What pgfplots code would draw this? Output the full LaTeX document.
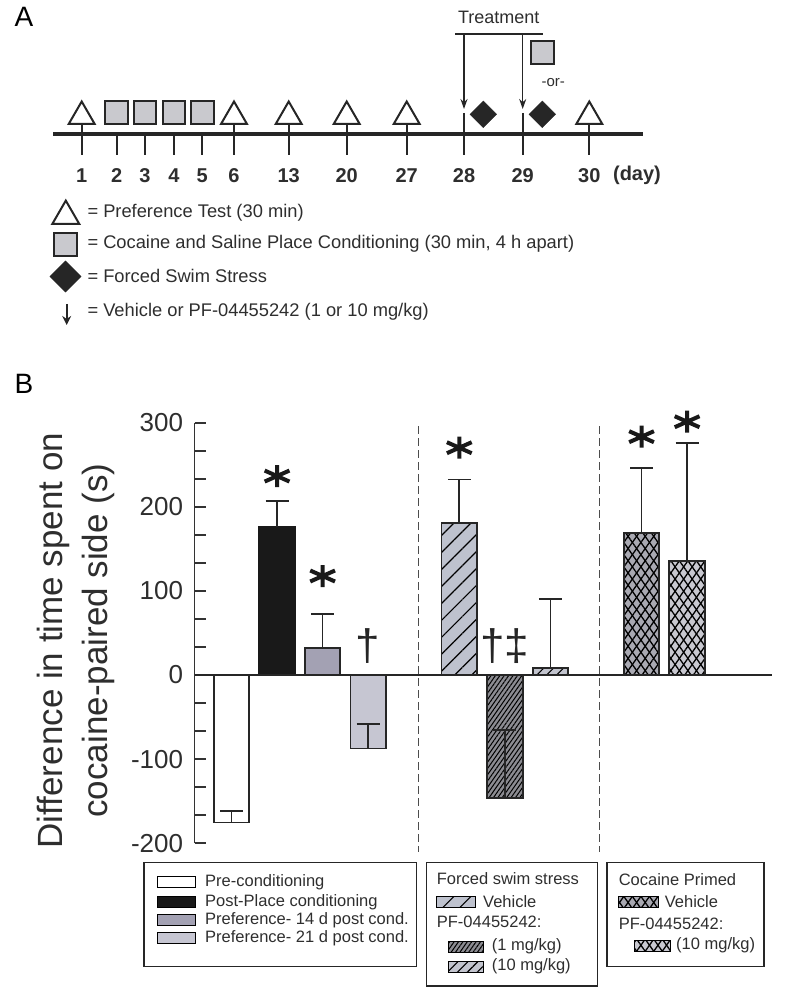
\documentclass[border=0pt]{standalone}
\usepackage{pgfplots}
\pgfplotsset{compat=1.18}
\usepackage{fontspec}
\setmainfont{Liberation Sans}
\usetikzlibrary{patterns,patterns.meta,arrows.meta}
\definecolor{txt}{HTML}{2E2E2E}
\definecolor{sqgray}{HTML}{C9C9CE}
\definecolor{pfourteen}{HTML}{A3A1B3}
\definecolor{ptwentyone}{HTML}{C6C6D2}
\definecolor{vehfss}{HTML}{BEC2CE}
\definecolor{onemg}{HTML}{8C8C92}
\definecolor{tenmg}{HTML}{C2C4CE}
\definecolor{cocveh}{HTML}{A9A9B2}
\definecolor{cocten}{HTML}{C8C8D0}
\tikzset{
  hsparse/.style={postaction={pattern={Lines[angle=45,distance=12pt,line width=1.2pt]},pattern color=black}},
  hdense/.style={postaction={pattern={Lines[angle=55,distance=3.6pt,line width=1pt]},pattern color=black}},
  hmed/.style={postaction={pattern={Lines[angle=45,distance=7pt,line width=1.1pt]},pattern color=black}},
  hcross/.style={postaction={pattern={Lines[angle=55,distance=7pt,line width=1.3pt]},pattern color=black},
                 postaction={pattern={Lines[angle=125,distance=7pt,line width=1.3pt]},pattern color=black}},
  lgtext/.style={anchor=west,inner sep=0pt,text=txt,font=\fontsize{16.5}{19}\selectfont},
  atext/.style={anchor=west,inner sep=0pt,text=txt,font=\fontsize{18.3}{21}\selectfont},
  daytext/.style={inner sep=0pt,text=txt,font=\bfseries\fontsize{20}{24}\selectfont},
}
\begin{document}
\begin{tikzpicture}
\useasboundingbox (0pt,0pt) rectangle (795pt,994pt);
% ---------------- overlay axis: panel A and legends ----------------
\begin{axis}[hide axis, anchor=south west, at={(0pt,0pt)}, x=1pt, y=1pt,
  xmin=0, xmax=795, ymin=0, ymax=994, clip=false]
% panel letters
\node[inner sep=0pt,text=black,font=\fontsize{28}{30}\selectfont] at (axis cs:24,977) {A};
\node[inner sep=0pt,text=black,font=\fontsize{28}{30}\selectfont] at (axis cs:24,610) {B};
% timeline
\addplot[line width=4pt, color=black!85] coordinates {(53.3,859.7) (642.7,859.7)};
\addplot[line width=2pt, color=black!85, unbounded coords=jump] coordinates {
 (81.7,870) (81.7,839) (nan,nan)
 (116.7,859.7) (116.7,839) (nan,nan)
 (145,859.7) (145,839) (nan,nan)
 (174,859.7) (174,839) (nan,nan)
 (202.3,859.7) (202.3,839) (nan,nan)
 (234,870) (234,839) (nan,nan)
 (288.7,870) (288.7,839) (nan,nan)
 (346.7,870) (346.7,839) (nan,nan)
 (406.7,870) (406.7,839) (nan,nan)
 (464,881) (464,839) (nan,nan)
 (522.7,881) (522.7,839) (nan,nan)
 (589.3,870) (589.3,839)};
% triangles (preference tests)
\addplot[only marks, mark=triangle*, mark size=15pt, mark options={fill=white, draw=black!85, line width=2pt}]
 coordinates {(81.7,877.5) (234,877.5) (288.7,877.5) (346.7,877.5) (406.7,877.5) (589.3,877.5)};
\addplot[only marks, mark=triangle*, mark size=15.6pt, mark options={fill=white, draw=black!85, line width=2pt}]
 coordinates {(65.8,777.8)};
% squares (conditioning)
\addplot[only marks, mark=square*, mark size=11.3pt, mark options={fill=sqgray, draw=black!85, line width=2pt}]
 coordinates {(116.7,881.5) (145,881.5) (174,881.5) (202.3,881.5) (542.3,941.5) (65.3,749.3)};
% diamonds (forced swim)
\addplot[only marks, mark=square*, mark size=9.4pt, mark options={rotate=45, fill=black!85, draw=black!85}]
 coordinates {(483.3,879.7) (542.3,879.7)};
\addplot[only marks, mark=square*, mark size=11pt, mark options={rotate=45, fill=black!85, draw=black!85}]
 coordinates {(65.5,717.5)};
% treatment bracket and arrows
\addplot[line width=1.6pt, color=black!85] coordinates {(455.3,960) (543.3,960)};
\addplot[line width=1.5pt, color=black!85, -{Stealth[length=10pt,width=7pt]}] coordinates {(464,960) (464,885)};
\addplot[line width=1.5pt, color=black!85, -{Stealth[length=10pt,width=7pt]}] coordinates {(522.7,960) (522.7,885)};
\addplot[line width=2pt, color=black!85, -{Stealth[length=9pt,width=9pt]}] coordinates {(66.7,690) (66.7,669)};
\node[inner sep=0pt,text=txt,font=\fontsize{18}{20}\selectfont] at (axis cs:498.7,976.5) {Treatment};
\node[inner sep=0pt,text=txt,font=\fontsize{15}{17}\selectfont] at (axis cs:553.3,911.3) {-or-};
% day labels
\node[daytext] at (axis cs:81.7,818.5) {1};
\node[daytext] at (axis cs:116.7,818.5) {2};
\node[daytext] at (axis cs:145,818.5) {3};
\node[daytext] at (axis cs:174,818.5) {4};
\node[daytext] at (axis cs:202.3,818.5) {5};
\node[daytext] at (axis cs:234,818.5) {6};
\node[daytext] at (axis cs:288.7,818.5) {13};
\node[daytext] at (axis cs:346.7,818.5) {20};
\node[daytext] at (axis cs:406.7,818.5) {27};
\node[daytext] at (axis cs:464,818.5) {28};
\node[daytext] at (axis cs:522.7,818.5) {29};
\node[daytext] at (axis cs:589.3,818.5) {30};
\node[daytext] at (axis cs:637,818.5) {(day)};
% panel A key
\node[atext] at (axis cs:87.3,781.7) {= Preference Test (30 min)};
\node[atext] at (axis cs:87.3,750) {= Cocaine and Saline Place Conditioning (30 min, 4 h apart)};
\node[atext] at (axis cs:87.3,718.3) {= Forced Swim Stress};
\node[atext] at (axis cs:87.3,682.3) {= Vehicle or PF-04455242 (1 or 10 mg/kg)};
% ---------------- panel B legends ----------------
\draw[line width=1.5pt, black!85] (axis cs:144,27.3) rectangle (axis cs:416.7,131.3);
\draw[line width=1.5pt, black!85] (axis cs:426.7,8) rectangle (axis cs:597.6,131.3);
\draw[line width=1.5pt, black!85] (axis cs:607.2,27.3) rectangle (axis cs:764,131.3);
% box 1
\draw[line width=1pt, fill=white] (axis cs:157,106.5) rectangle (axis cs:195,117.5);
\draw[line width=1pt, fill=black!90] (axis cs:157,86.5) rectangle (axis cs:195,97.5);
\draw[line width=1pt, fill=pfourteen] (axis cs:157,68.5) rectangle (axis cs:195,79.5);
\draw[line width=1pt, fill=ptwentyone] (axis cs:157,50.5) rectangle (axis cs:195,61.5);
\node[lgtext] at (axis cs:205,112) {Pre-conditioning};
\node[lgtext] at (axis cs:205,92) {Post-Place conditioning};
\node[lgtext] at (axis cs:205,74) {Preference- 14 d post cond.};
\node[lgtext] at (axis cs:205,56) {Preference- 21 d post cond.};
% box 2
\node[lgtext] at (axis cs:436.7,115) {Forced swim stress};
\draw[line width=1pt, fill=vehfss, hsparse] (axis cs:436.7,86.8) rectangle (axis cs:475,97.8);
\node[lgtext] at (axis cs:483,92.3) {Vehicle};
\node[lgtext] at (axis cs:436.7,72.3) {PF-04455242:};
\draw[line width=1pt, fill=onemg, hdense] (axis cs:448,41.8) rectangle (axis cs:483,52.8);
\node[lgtext] at (axis cs:491.7,47.3) {(1 mg/kg)};
\draw[line width=1pt, fill=tenmg, hmed] (axis cs:448,21.8) rectangle (axis cs:483,32.8);
\node[lgtext] at (axis cs:491.7,27.3) {(10 mg/kg)};
% box 3
\node[lgtext] at (axis cs:618.6,114.7) {Cocaine Primed};
\draw[line width=1pt, fill=cocveh, hcross] (axis cs:618.6,86.8) rectangle (axis cs:658.8,97.8);
\node[lgtext] at (axis cs:664.6,92.3) {Vehicle};
\node[lgtext] at (axis cs:618.6,70) {PF-04455242:};
\draw[line width=1pt, fill=cocten, hcross] (axis cs:634,42.8) rectangle (axis cs:670.3,53.8);
\node[lgtext] at (axis cs:676,48.3) {(10 mg/kg)};
\end{axis}
% ---------------- panel B bar chart ----------------
\begin{axis}[anchor=south west, at={(194.6pt,150.7pt)}, x=45.56pt, y=0.8413pt,
  xmin=0.19, xmax=12.86, ymin=-200, ymax=300, clip=false,
  axis x line=none, axis y line=left,
  axis line style={-, line width=1.8pt, color=black!80},
  ytick={-200,-100,0,100,200,300}, yticklabels={-200,-100,0,100,200,300},
  minor ytick={-166.667,-133.333,-66.667,-33.333,33.333,66.667,133.333,166.667,233.333,266.667},
  tick align=inside, major tick length=11pt, minor tick length=11pt,
  every tick/.style={line width=1.8pt, color=black!80},
  yticklabel style={font=\fontsize{26}{30}\selectfont, text=txt, xshift=-8pt},
  every axis y label/.style={at={(axis description cs:-0.2064,0.482)}, rotate=90, anchor=center,
     align=center, text=txt, font=\fontsize{35}{45}\selectfont},
  ylabel={Difference in time spent on\\cocaine-paired side (s)},
  error bars/error bar style={line width=1.7pt, color=black!85},
  error bars/error mark options={rotate=90, mark size=11.5pt, line width=1.7pt, color=black!85},
]
\addplot[ybar, bar width=0.78, bar shift=0pt, fill=white, draw=black!85, line width=1.8pt,
  error bars/.cd, y dir=plus, y explicit] coordinates {(1,-175.3) +- (0,13.3)};
\addplot[ybar, bar width=0.78, bar shift=0pt, fill=black!90, draw=black!90, line width=1.8pt,
  error bars/.cd, y dir=plus, y explicit] coordinates {(2,176.3) +- (0,30.5)};
\addplot[ybar, bar width=0.78, bar shift=0pt, fill=pfourteen, draw=black!85, line width=1.8pt,
  error bars/.cd, y dir=plus, y explicit] coordinates {(3,32.5) +- (0,40.4)};
\addplot[ybar, bar width=0.78, bar shift=0pt, fill=ptwentyone, draw=black!85, line width=1.8pt,
  error bars/.cd, y dir=plus, y explicit] coordinates {(4,-87.4) +- (0,29.6)};
\addplot[ybar, bar width=0.78, bar shift=0pt, fill=vehfss, hsparse, draw=black!85, line width=1.8pt,
  error bars/.cd, y dir=plus, y explicit] coordinates {(6,181) +- (0,51.6)};
\addplot[ybar, bar width=0.78, bar shift=0pt, fill=onemg, hdense, draw=black!85, line width=1.8pt,
  error bars/.cd, y dir=plus, y explicit] coordinates {(7,-146.4) +- (0,80.8)};
\addplot[ybar, bar width=0.78, bar shift=0pt, fill=tenmg, hmed, draw=black!85, line width=1.8pt,
  error bars/.cd, y dir=plus, y explicit] coordinates {(8,8.7) +- (0,81.3)};
\addplot[ybar, bar width=0.78, bar shift=0pt, fill=cocveh, hcross, draw=black!85, line width=1.8pt,
  error bars/.cd, y dir=plus, y explicit] coordinates {(10,168.4) +- (0,77.3)};
\addplot[ybar, bar width=0.78, bar shift=0pt, fill=cocten, hcross, draw=black!85, line width=1.8pt,
  error bars/.cd, y dir=plus, y explicit] coordinates {(11,135.1) +- (0,140.3)};
% zero line
\addplot[line width=2.2pt, color=black!85] coordinates {(0.19,0) (12.86,0)};
% dashed separators
\addplot[line width=1.3pt, color=black!70, dash pattern=on 8pt off 4pt] coordinates {(5.11,296) (5.11,-210)};
\addplot[line width=1.3pt, color=black!70, dash pattern=on 8pt off 4pt] coordinates {(9.08,296) (9.08,-210)};
% significance asterisks
\addplot[only marks, mark=asterisk, mark size=11pt, mark options={line width=4pt, xscale=1.3, color=black!90}]
 coordinates {(2,236.5) (3,117.7) (6,270.2) (10,283.3) (11,301.1)};
\node[inner sep=0pt, text=black!85, font=\fontsize{44}{44}\selectfont] at (axis cs:4,34.5) {†};
\node[inner sep=0pt, text=black!85, font=\fontsize{44}{44}\selectfont] at (axis cs:7,34.5) {†‡};
\end{axis}
\end{tikzpicture}
\end{document}
